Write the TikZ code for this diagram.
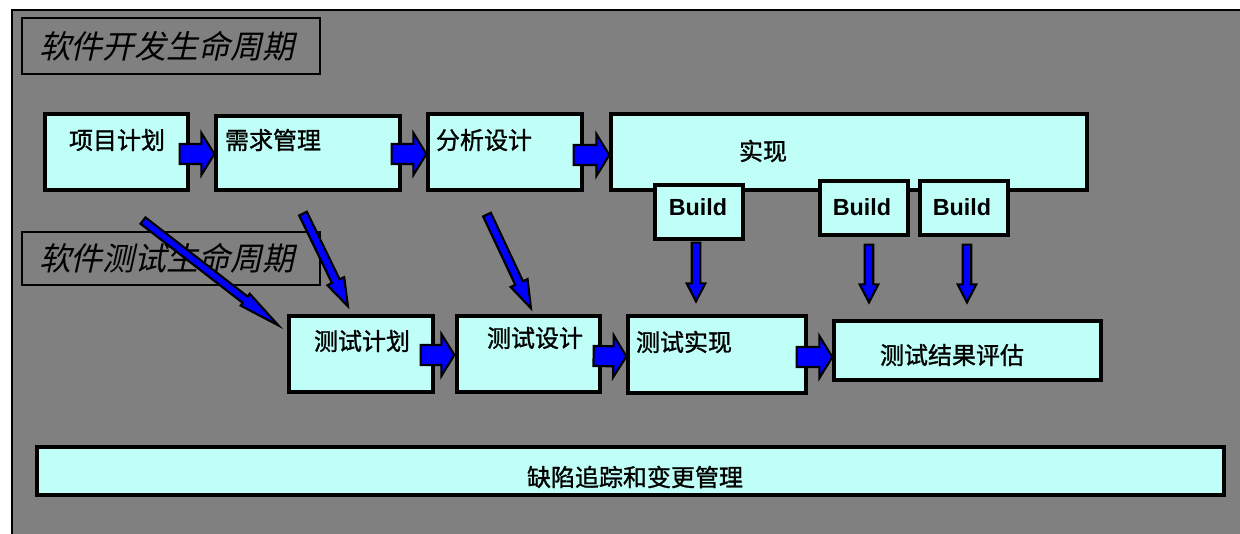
\documentclass[tikz,border=0pt]{standalone}
\usepackage{fontspec}
\setmainfont{Liberation Sans}
\newfontfamily\cjk[FakeBold=1.2]{Noto Sans CJK SC}
\newfontfamily\cjkslant[FakeSlant=0.22]{Noto Sans CJK SC}
\usepackage{xcolor}
\usetikzlibrary{calc}
\usetikzlibrary{fit}

\definecolor{panelgray}{RGB}{128,128,128}
\definecolor{boxcyan}{RGB}{192,255,247}
\definecolor{arrowblue}{RGB}{0,0,255}

\tikzset{ashaft/.store in=\ash, ahead/.store in=\ahw, alen/.store in=\ahl,
  ashaft=7.5pt, ahead=15.75pt, alen=9.75pt}

\begin{document}
\begin{tikzpicture}[x=0.75pt,y=-0.75pt]
  \tikzstyle{box}=[draw=black,fill=boxcyan,line width=2.4pt,inner sep=0pt]
  \tikzstyle{titlebox}=[draw=black,line width=2.2pt,inner sep=0pt]
  \tikzstyle{txt}=[font=\cjk\fontsize{18pt}{20pt}\selectfont,inner sep=0pt]
  \tikzstyle{bld}=[font=\bfseries\fontsize{17.5pt}{19pt}\selectfont,inner sep=0pt]
  \tikzstyle{ttl}=[font=\cjkslant\fontsize{24pt}{26pt}\selectfont,inner sep=0pt]
  \tikzstyle{blk}=[draw=black,fill=arrowblue,line width=1.6pt,line join=miter,
    to path={let \p1=(\tikztostart), \p2=(\tikztotarget) in
      ($(\p1)!\ash!90:(\p2)$)
      -- ($(\p2)!\ahl!(\p1) - (\p2) + (\p2)!\ash!270:(\p1)$)
      -- ($(\p2)!\ahl!(\p1) - (\p2) + (\p2)!\ahw!270:(\p1)$)
      -- (\p2)
      -- ($(\p2)!\ahl!(\p1) - (\p2) + (\p2)!\ahw!90:(\p1)$)
      -- ($(\p2)!\ahl!(\p1) - (\p2) + (\p2)!\ash!90:(\p1)$)
      -- ($(\p1)!\ash!270:(\p2)$) -- cycle}]
  \tikzstyle{thin}=[blk,ashaft=3.2pt,ahead=7pt,alen=13.5pt]

  \useasboundingbox (0,0) rectangle (1240,534);
  \begin{scope}
    \clip (0,0) rectangle (1240,534);
    \draw[fill=panelgray,line width=2.2pt] (12,10) rectangle (1262,560);
  \end{scope}

  % titles
  \node[titlebox,fit={(22,18) (320,74)},label={[ttl,shift={(-4,0)}]center:软件开发生命周期}] (dev) {};
  \node[titlebox,fit={(22,232) (320,285)},label={[ttl,shift={(-4,0)}]center:软件测试生命周期}] (test) {};

  % development
  \node[box,fit={(45,114) (188,190)},label={[txt,shift={(0.5,-12)}]center:项目计划}] (plan) {};
  \node[box,fit={(216,116) (400,190)},label={[txt,shift={(-35,-13)}]center:需求管理}] (req) {};
  \node[box,fit={(428,114) (582,190)},label={[txt,shift={(-21,-12)}]center:分析设计}] (ana) {};
  \node[box,fit={(611,114) (1087,190)},label={[txt,shift={(-86,-1)}]center:实现}] (impl) {};
  \node[box,fit={(655,185) (743,239)},label={[bld,shift={(-1,-5)}]center:Build}] (b1) {};
  \node[box,fit={(820,181) (908,235)},label={[bld,shift={(-2,-1)}]center:Build}] (b2) {};
  \node[box,fit={(920,181) (1008,235)},label={[bld,shift={(-2,-1)}]center:Build}] (b3) {};

  % testing
  \node[box,fit={(289,316) (433,392)},label={[txt,shift={(1,-13)}]center:测试计划}] (tplan) {};
  \node[box,fit={(457,316) (600,392)},label={[txt,shift={(6.5,-16)}]center:测试设计}] (tdes) {};
  \node[box,fit={(628,316) (806,393)},label={[txt,shift={(-33,-12.5)}]center:测试实现}] (timpl) {};
  \node[box,fit={(834,321) (1101,380)},label={[txt,shift={(-15.5,4.5)}]center:测试结果评估}] (teval) {};
  \node[box,fit={(37,447) (1224,495)},label={[txt,shift={(4.5,6)}]center:缺陷追踪和变更管理}] (defect) {};

  % flow
  \draw[blk] ([shift={(-10,2)}]plan.east) to ([shift={(0,1)}]req.west);
  \draw[blk] ([shift={(-10,1)}]req.east) to ([shift={(0,2)}]ana.west);
  \draw[blk] ([shift={(-10,3)}]ana.east) to ([shift={(0,3)}]impl.west);
  \draw[blk] ([shift={(-14,1)}]tplan.east) to ([shift={(-1,1)}]tdes.west);
  \draw[blk] ([shift={(-8,2)}]tdes.east) to ([shift={(0,2)}]timpl.west);
  \draw[blk] ([shift={(-11,2.5)}]timpl.east) to ([shift={(0,6.5)}]teval.west);

  % builds
  \draw[thin] ([shift={(-3,2)}]b1.south) to ($(b1.south |- timpl.north)+(-3,-13)$);
  \draw[thin] ([shift={(5,8)}]b2.south) to ($(b2.south |- teval.north)+(5,-17)$);
  \draw[thin] ([shift={(3,8)}]b3.south) to ($(b3.south |- teval.north)+(3,-17)$);

  % plans
  \draw[thin,alen=31.5pt,ahead=5.6pt,ashaft=3pt] ($(plan.south)+(26.5,29)$) to ($(tplan.north west)+(-9,11)$);
  \draw[thin,alen=21pt] ($(req.south)+(-5,22)$) to ($(tplan.north)+(-13,-8)$);
  \draw[thin,alen=21pt] ($(ana.south)+(-18,23)$) to ($(tdes.north)+(2.5,-6)$);
\end{tikzpicture}
\end{document}
